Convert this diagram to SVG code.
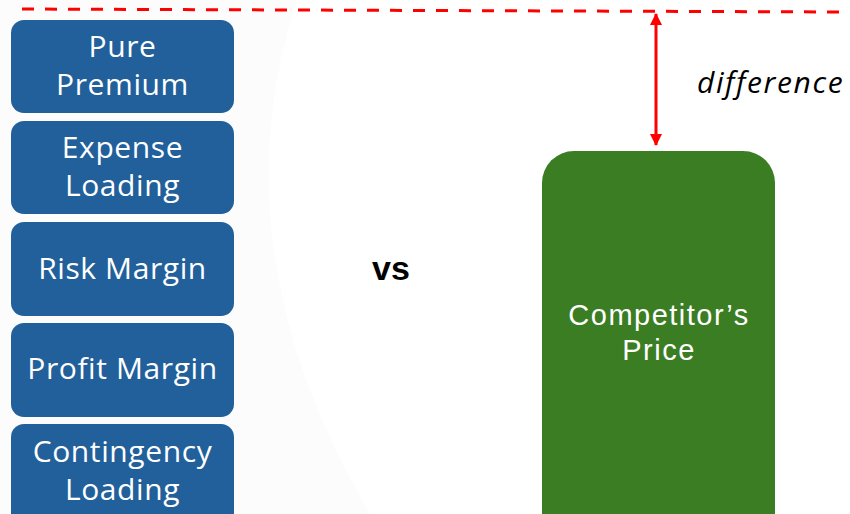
<svg xmlns="http://www.w3.org/2000/svg" width="850" height="514" viewBox="0 0 850 514">
  <defs>
    <style>
      .box { fill: #22609b; }
      .lbl { font-family: "Open Sans", "Liberation Sans", sans-serif; font-size: 30px; letter-spacing: 0.6px; fill: #ffffff; text-anchor: middle; }
      .lbl2 { font-family: "Liberation Sans", Arial, sans-serif; font-size: 29px; letter-spacing: 1.5px; fill: #ffffff; text-anchor: middle; }
    </style>
    <marker id="ah" viewBox="0 0 12 12" refX="11" refY="6" markerWidth="12" markerHeight="12" markerUnits="userSpaceOnUse" orient="auto-start-reverse">
      <path d="M0,0 L12,6 L0,12 Z" fill="#ff0000"/>
    </marker>
  </defs>
  <rect width="850" height="514" fill="#ffffff"/>
  <path d="M0,0 L297,0 Q215,250 370,514 L0,514 Z" fill="#fcfcfc"/>

  <g id="pure-premium">
    <rect class="box" x="11" y="20" width="223" height="93" rx="13"/>
    <text class="lbl" x="122.5" y="57">Pure</text>
    <text class="lbl" x="122.5" y="95">Premium</text>
  </g>
  <g id="expense-loading">
    <rect class="box" x="11" y="121" width="223" height="93" rx="13"/>
    <text class="lbl" x="122.5" y="158">Expense</text>
    <text class="lbl" x="122.5" y="196">Loading</text>
  </g>
  <g id="risk-margin">
    <rect class="box" x="11" y="222" width="223" height="94" rx="13"/>
    <text class="lbl" x="122.5" y="279">Risk Margin</text>
  </g>
  <g id="profit-margin">
    <rect class="box" x="11" y="323" width="223" height="94" rx="13"/>
    <text class="lbl" x="122.5" y="379">Profit Margin</text>
  </g>
  <g id="contingency-loading">
    <rect class="box" x="11" y="424" width="223" height="110" rx="13"/>
    <text class="lbl" x="122.5" y="462">Contingency</text>
    <text class="lbl" x="122.5" y="500">Loading</text>
  </g>

  <g id="vs">
    <text x="391" y="280" font-family="Liberation Sans, Arial, sans-serif" font-size="34" font-weight="bold" fill="#000000" text-anchor="middle">vs</text>
  </g>

  <g id="competitor-price">
    <rect x="542" y="151" width="233" height="400" rx="32" fill="#3b7d23"/>
    <text class="lbl2" x="659" y="325">Competitor’s</text>
    <text class="lbl2" x="659" y="360">Price</text>
  </g>

  <g id="connectors">
    <line x1="22" y1="9" x2="850" y2="12" stroke="#ff0000" stroke-width="3" stroke-dasharray="12 11"/>
    <line x1="656" y1="14" x2="656" y2="145" stroke="#ff0000" stroke-width="3" marker-start="url(#ah)" marker-end="url(#ah)"/>
  </g>

  <g id="difference-label">
    <text x="697" y="93" font-family="Open Sans, Liberation Sans, sans-serif" font-size="30" letter-spacing="1.6" font-style="italic" fill="#000000">difference</text>
  </g>
</svg>
